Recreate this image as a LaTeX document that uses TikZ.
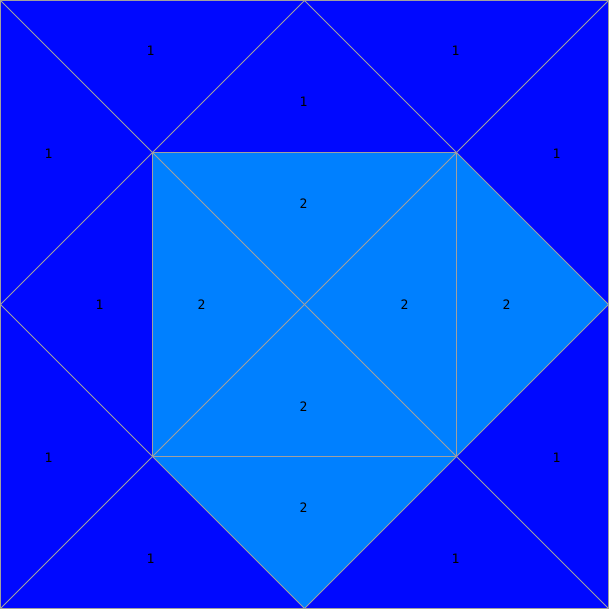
\documentclass[tikz,border=0pt]{standalone}
\usepackage{fontspec}
\setmonofont{DejaVu Sans Mono}
\definecolor{darkfill}{RGB}{0,8,255}
\definecolor{lightfill}{RGB}{0,128,255}
\definecolor{edgegrey}{RGB}{160,160,160}
\tikzset{
  edge/.style={draw=edgegrey, line width=0.8pt},
  lab/.style={font=\ttfamily\fontsize{13}{13}\selectfont, text=black, inner sep=0pt},
}
\begin{document}
\begin{tikzpicture}[x=1pt,y=-1pt]
\useasboundingbox (0,0) rectangle (609,609);
% corner points
\coordinate (TL) at (0.5,0.5);
\coordinate (TR) at (608.5,0.5);
\coordinate (BR) at (608.5,608.5);
\coordinate (BL) at (0.5,608.5);
\coordinate (T) at (304.5,0.5);
\coordinate (R) at (608.5,304.5);
\coordinate (B) at (304.5,608.5);
\coordinate (L) at (0.5,304.5);
\coordinate (a) at (152.5,152.5);
\coordinate (b) at (456.5,152.5);
\coordinate (c) at (456.5,456.5);
\coordinate (d) at (152.5,456.5);
\coordinate (C) at (304.5,304.5);
% fills
\fill[darkfill] (0,0) rectangle (609,609);
\fill[lightfill] (a) -- (b) -- (R) -- (c) -- (B) -- (d) -- cycle;
% edges
\draw[edge] (TL) rectangle (BR);
\draw[edge] (TL) -- (BR);
\draw[edge] (TR) -- (BL);
\draw[edge] (T) -- (R) -- (B) -- (L) -- cycle;
\draw[edge] (a) rectangle (c);
% labels
\node[lab] (l1) at (150.5,50.5) {1};
\node[lab] (l2) at (455.5,50.5) {1};
\node[lab] (l3) at (303.5,101.5) {1};
\node[lab] (l4) at (48.5,153.5) {1};
\node[lab] (l5) at (556.5,153.5) {1};
\node[lab] (l6) at (99.5,304.5) {1};
\node[lab] (l7) at (48.5,457.5) {1};
\node[lab] (l8) at (556.5,457.5) {1};
\node[lab] (l9) at (150.5,558.5) {1};
\node[lab] (l10) at (455.5,558.5) {1};
\node[lab] (m1) at (303.5,203.5) {2};
\node[lab] (m2) at (201.5,304.5) {2};
\node[lab] (m3) at (404.5,304.5) {2};
\node[lab] (m4) at (506.5,304.5) {2};
\node[lab] (m5) at (303.5,406.5) {2};
\node[lab] (m6) at (303.5,507.5) {2};
\end{tikzpicture}
\end{document}
